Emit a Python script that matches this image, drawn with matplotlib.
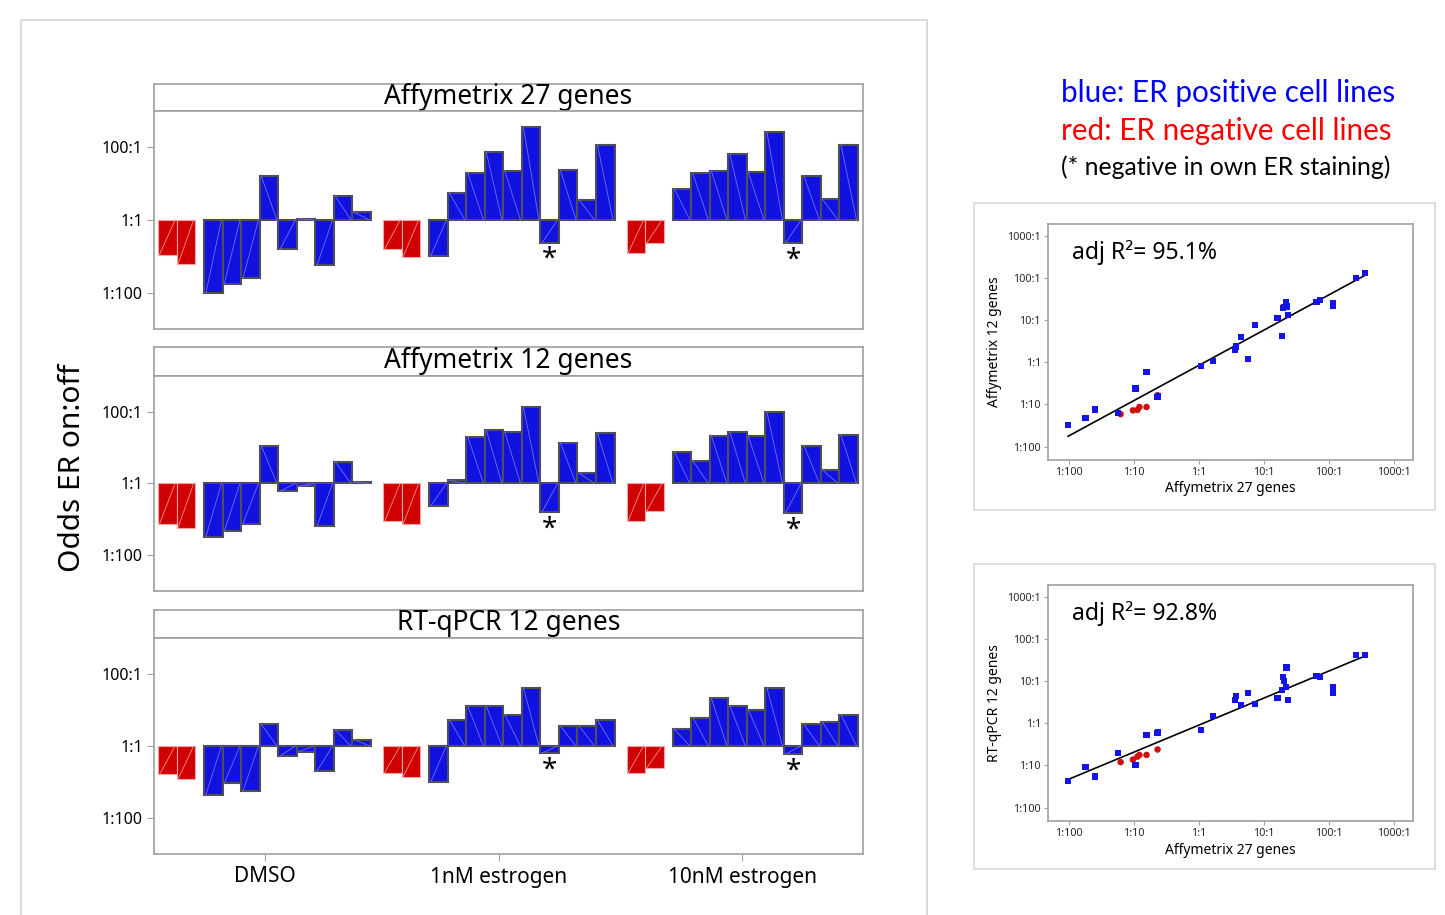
import numpy as np
import matplotlib
matplotlib.use("Agg")
import matplotlib.pyplot as plt
from matplotlib.patches import Rectangle
from matplotlib.lines import Line2D
from matplotlib.ticker import FixedLocator, FixedFormatter, NullLocator

# ---------------- data (log10 of odds ER on:off) ----------------
groups = ["DMSO", "1nM estrogen", "10nM estrogen"]
panel_titles = ["Affymetrix 27 genes", "Affymetrix 12 genes", "RT-qPCR 12 genes"]

# ER negative cell lines (red), per group
affy27_red = [[-0.95, -1.21], [-0.81, -1.02], [-0.92, -0.64]]
affy12_red = [[-1.13, -1.23], [-1.06, -1.14], [-1.06, -0.78]]
qpcr_red = [[-0.79, -0.92], [-0.75, -0.86], [-0.75, -0.62]]

# ER positive cell lines (blue), per group
affy27_blue = [
    [-2.02, -1.75, -1.61, 1.20, -0.81, 0.03, -1.25, 0.65, 0.21],
    [-0.98, 0.75, 1.29, 1.86, 1.34, 2.56, -0.63, 1.37, 0.56, 2.07],
    [0.86, 1.28, 1.35, 1.81, 1.31, 2.42, -0.64, 1.21, 0.57, 2.07],
]
affy12_blue = [
    [-1.49, -1.33, -1.12, 1.05, -0.22, -0.08, -1.20, 0.60, 0.04],
    [-0.62, 0.09, 1.30, 1.48, 1.43, 2.13, -0.80, 1.13, 0.29, 1.41],
    [0.89, 0.63, 1.33, 1.44, 1.32, 2.00, -0.83, 1.06, 0.38, 1.35],
]
qpcr_blue = [
    [-1.36, -1.03, -1.26, 0.60, -0.28, -0.16, -0.70, 0.44, 0.18],
    [-0.99, 0.73, 1.10, 1.10, 0.87, 1.62, -0.20, 0.55, 0.56, 0.72],
    [0.47, 0.79, 1.33, 1.12, 1.01, 1.62, -0.23, 0.60, 0.66, 0.87],
]
# blue bar marked with * (negative in own ER staining), per group
star_index = [None, 6, 6]

bar_ticks = [-2, 0, 2]
scatter_ticks = [-2, -1, 0, 1, 2, 3]
r2_labels = ["adj R\u00b2= 95.1%", "adj R\u00b2= 92.8%"]
scatter_ylabels = ["Affymetrix 12 genes", "RT-qPCR 12 genes"]
scatter_xlabel = "Affymetrix 27 genes"
legend_lines = ["blue: ER positive cell lines", "red: ER negative cell lines",
                "(* negative in own ER staining)"]


def ratio_label(e):
    return f"{10**e}:1" if e >= 0 else f"1:{10**(-e)}"


# ---------------- figure ----------------
W, H = 1445, 915
plt.rcParams['font.family'] = ['Noto Sans', 'DejaVu Sans']
fig = plt.figure(figsize=(W / 100, H / 100), dpi=100)

BLUE = '#1212e0'
BLUE_EDGE = '#4d4d5c'
RED = '#d00000'
RED_EDGE = '#f4a4a4'
GRAY = '#a0a0a0'


def fax(x0, y0, x1, y1):
    """axes from pixel box (left, top, right, bottom)"""
    return fig.add_axes([x0 / W, 1 - y1 / H, (x1 - x0) / W, (y1 - y0) / H])


def ftext(x, y, s, **kw):
    return fig.text(x / W, 1 - y / H, s, **kw)


# outer decorative frames
fig.add_artist(Line2D([21 / W, 21 / W, 927 / W, 927 / W],
                      [0, 1 - 20 / H, 1 - 20 / H, 0], color='#d4d4d4', lw=1.2))
for (x0, y0, x1, y1) in [(974, 203, 1435, 510), (974, 564, 1435, 869)]:
    fig.add_artist(Rectangle((x0 / W, 1 - y1 / H), (x1 - x0) / W, (y1 - y0) / H,
                             fill=False, edgecolor='#d8d8d8', lw=1.2))

# bar positions (left edges), built from group sizes
red_pos, blue_pos, centers = [], [], []
p = 0.0
for g in range(3):
    start = p
    red_pos.append(p + np.arange(len(affy27_red[g])))
    p += len(affy27_red[g]) + 0.5
    blue_pos.append(p + np.arange(len(affy27_blue[g])))
    p += len(affy27_blue[g])
    centers.append((start + p) / 2)
    p += 0.65
xmax = p - 0.65

panel_boxes = [(84, 111, 329), (347, 376, 591), (610, 638, 854)]
panel_data = [(affy27_red, affy27_blue), (affy12_red, affy12_blue), (qpcr_red, qpcr_blue)]

for i, ((ys, yt, yb), (reds, blues)) in enumerate(zip(panel_boxes, panel_data)):
    # strip
    sax = fax(154, ys, 863, yt)
    sax.set_xticks([]); sax.set_yticks([])
    for s in sax.spines.values():
        s.set_color(GRAY); s.set_linewidth(1.2)
    sax.text(0.5, 0.52, panel_titles[i], transform=sax.transAxes, ha='center',
             va='center', fontsize=19, color='black')

    ax = fax(154, yt, 863, yb)
    ax.set_yscale('log')
    ax.set_ylim(1e-3, 1e3)
    ax.set_xlim(-0.22, xmax + 0.27)
    for g in range(3):
        for vals, pos, fc, ec, lw, dc in [(reds[g], red_pos[g], RED, RED_EDGE, 0.8, '#f29090'),
                                          (blues[g], blue_pos[g], BLUE, BLUE_EDGE, 1.5, '#6f6ff5')]:
            v = 10 ** np.asarray(vals)
            ax.bar(pos, v - 1, bottom=1, width=1, align='edge', color=fc,
                   edgecolor=ec, linewidth=lw, zorder=2)
            for xl, vv in zip(pos, v):
                ax.plot([xl + 0.08, xl + 0.92], [vv, 1], color=dc, lw=0.6, zorder=3)
        if star_index[g] is not None:
            k = star_index[g]
            ax.annotate('*', (blue_pos[g][k] + 0.5, 10 ** blues[g][k]),
                        xytext=(0, -17), textcoords='offset pixels', ha='center',
                        va='center', fontsize=20, fontweight='bold', color='black')
    ax.yaxis.set_major_locator(FixedLocator([10.0 ** e for e in bar_ticks]))
    ax.yaxis.set_major_formatter(FixedFormatter([ratio_label(e) for e in bar_ticks]))
    ax.yaxis.set_minor_locator(NullLocator())
    ax.tick_params(axis='y', length=5, color=GRAY, labelsize=11.5, pad=3)
    if i == 2:
        ax.set_xticks(centers)
        ax.set_xticklabels(groups, fontsize=15)
        ax.tick_params(axis='x', length=5, color=GRAY, pad=4)
    else:
        ax.set_xticks([])
    for s in ax.spines.values():
        s.set_color(GRAY); s.set_linewidth(1.2)

ftext(73, 468, "Odds ER on:off", rotation=90, ha='center', va='center', fontsize=21.5)

# legend text
leg_colors = ['#0000ff', '#ff0000', 'black']
leg_y = [93, 131, 167]
leg_size = [21.3, 21.3, 17.8]
for s, c, y, fs in zip(legend_lines, leg_colors, leg_y, leg_size):
    ftext(1061, y, s, color=c, ha='left', va='center', fontsize=fs, family=['Lato', 'DejaVu Sans'])

# scatter panels
x_all_b = np.concatenate([np.asarray(a) for a in affy27_blue])
x_all_r = np.concatenate([np.asarray(a) for a in affy27_red])
scatter_y = [(affy12_blue, affy12_red), (qpcr_blue, qpcr_red)]
scatter_boxes = [(1048, 224, 1413, 460), (1048, 585, 1413, 821)]
for j, ((yb_, yr_), box) in enumerate(zip(scatter_y, scatter_boxes)):
    ax = fax(*box)
    ax.set_xscale('log'); ax.set_yscale('log')
    ax.set_xlim(10 ** -2.33, 10 ** 3.30)
    ax.set_ylim(10 ** -2.32, 10 ** 3.29)
    yb = np.concatenate([np.asarray(a) for a in yb_])
    yr = np.concatenate([np.asarray(a) for a in yr_])
    xs = np.concatenate([x_all_b, x_all_r])
    ys = np.concatenate([yb, yr])
    coef = np.polyfit(xs, ys, 1)
    xx = np.array([xs.min(), xs.max()])
    ax.plot(10 ** xx, 10 ** np.polyval(coef, xx), color='black', lw=1.2, zorder=2)
    ax.scatter(10 ** x_all_r, 10 ** yr, marker='o', s=22, color='#d01010',
               edgecolors='none', zorder=3)
    ax.scatter(10 ** x_all_b, 10 ** yb, marker='s', s=20, color='#1414e6',
               edgecolors='none', zorder=4)
    for axis in (ax.xaxis, ax.yaxis):
        axis.set_major_locator(FixedLocator([10.0 ** e for e in scatter_ticks]))
        axis.set_major_formatter(FixedFormatter([ratio_label(e) for e in scatter_ticks]))
        axis.set_minor_locator(NullLocator())
    ax.tick_params(length=3, color=GRAY, labelsize=7.8, labelcolor='#2a2a2a', pad=2)
    for s in ax.spines.values():
        s.set_color(GRAY); s.set_linewidth(1.2)
    ax.text(0.065, 0.88, r2_labels[j], transform=ax.transAxes, ha='left',
            va='center', fontsize=16.6)
    ftext(1230, box[3] + 29, scatter_xlabel, ha='center', va='center', fontsize=10)
    ftext(994, (box[1] + box[3]) / 2, scatter_ylabels[j], rotation=90,
          ha='center', va='center', fontsize=10)

fig.savefig("out.png", dpi=100)
